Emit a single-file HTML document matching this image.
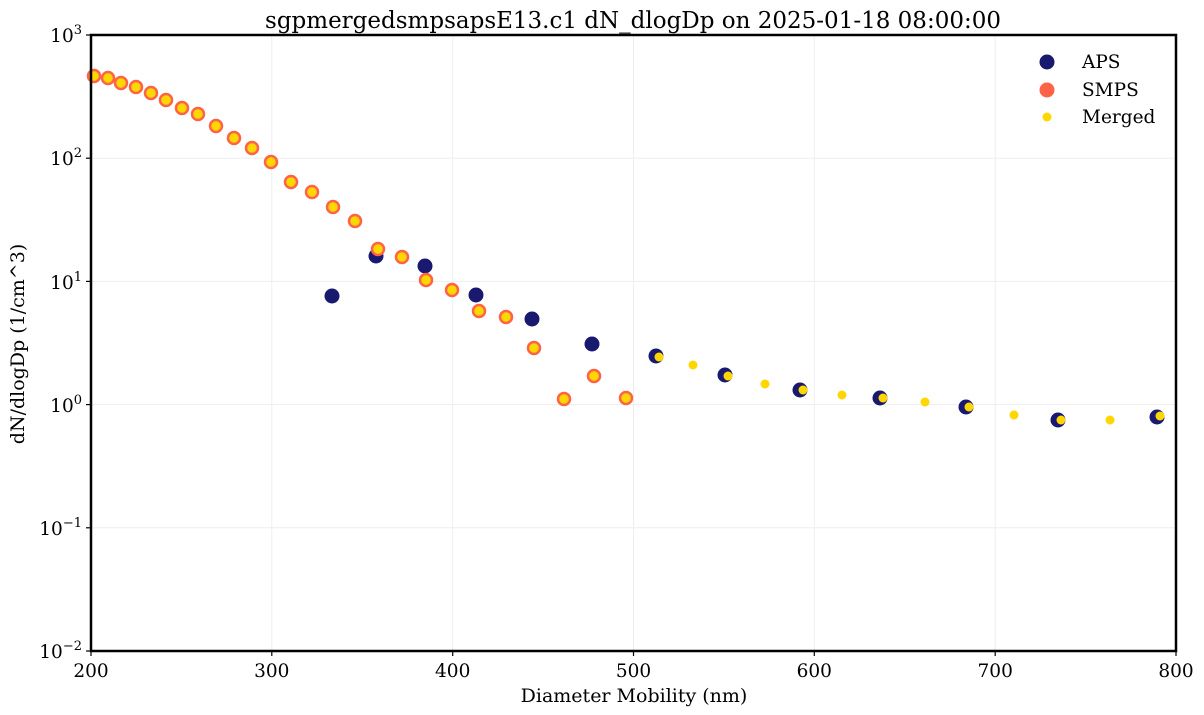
<!DOCTYPE html>
<html><head><meta charset="utf-8"><style>body{margin:0;background:#fff}svg{display:block}text{font-family:"DejaVu Serif","Liberation Serif",serif;fill:#000}</style></head><body>
<svg width="1204" height="715" viewBox="0 0 1204 715">
<rect width="1204" height="715" fill="#fff"/>
<g stroke="#eee" stroke-width="1">
<line x1="271.8" y1="35" x2="271.8" y2="651"/><line x1="452.7" y1="35" x2="452.7" y2="651"/><line x1="633.5" y1="35" x2="633.5" y2="651"/><line x1="814.3" y1="35" x2="814.3" y2="651"/><line x1="995.2" y1="35" x2="995.2" y2="651"/>
<line x1="91" y1="158.2" x2="1176" y2="158.2"/><line x1="91" y1="281.4" x2="1176" y2="281.4"/><line x1="91" y1="404.6" x2="1176" y2="404.6"/><line x1="91" y1="527.8" x2="1176" y2="527.8"/>
</g>
<g id="pts">
<g fill="#191970">
<circle cx="332" cy="296" r="7.5"/><circle cx="376" cy="256" r="7.5"/><circle cx="425" cy="266" r="7.5"/><circle cx="476" cy="295" r="7.5"/><circle cx="532" cy="319" r="7.5"/><circle cx="592" cy="344" r="7.5"/><circle cx="656" cy="356" r="7.5"/><circle cx="725" cy="375" r="7.5"/><circle cx="800" cy="390" r="7.5"/><circle cx="880" cy="398" r="7.5"/><circle cx="966" cy="407" r="7.5"/><circle cx="1058" cy="420" r="7.5"/><circle cx="1157" cy="417" r="7.5"/>
</g>
<g fill="#ffd700" stroke="#ff6347" stroke-width="2.5">
<circle cx="94" cy="76" r="6"/><circle cx="108" cy="78" r="6"/><circle cx="121" cy="83" r="6"/><circle cx="136" cy="87" r="6"/><circle cx="151" cy="93" r="6"/><circle cx="166" cy="100" r="6"/><circle cx="182" cy="108" r="6"/><circle cx="198" cy="114" r="6"/><circle cx="216" cy="126" r="6"/><circle cx="234" cy="138" r="6"/><circle cx="252" cy="148" r="6"/><circle cx="271" cy="162" r="6"/><circle cx="291" cy="182" r="6"/><circle cx="312" cy="192" r="6"/><circle cx="333" cy="207" r="6"/><circle cx="355" cy="221" r="6"/><circle cx="378" cy="249" r="6"/><circle cx="402" cy="257" r="6"/><circle cx="426" cy="280" r="6"/><circle cx="452" cy="290" r="6"/><circle cx="479" cy="311" r="6"/><circle cx="506" cy="317" r="6"/><circle cx="534" cy="348" r="6"/><circle cx="564" cy="399" r="6"/><circle cx="594" cy="376" r="6"/><circle cx="626" cy="398" r="6"/>
</g>
<g fill="#ffd700">
<circle cx="659" cy="357" r="4.5"/><circle cx="693" cy="365" r="4.5"/><circle cx="728" cy="376" r="4.5"/><circle cx="765" cy="384" r="4.5"/><circle cx="803" cy="390" r="4.5"/><circle cx="842" cy="395" r="4.5"/><circle cx="883" cy="398" r="4.5"/><circle cx="925" cy="402" r="4.5"/><circle cx="969" cy="407" r="4.5"/><circle cx="1014" cy="415" r="4.5"/><circle cx="1061" cy="420" r="4.5"/><circle cx="1110" cy="420" r="4.5"/><circle cx="1160" cy="416" r="4.5"/>
</g>
</g>
<rect x="91" y="35" width="1085" height="616" fill="none" stroke="#000" stroke-width="2.5"/>
<g stroke="#000" stroke-width="1.2">
<line x1="91" y1="651" x2="91" y2="656"/><line x1="271.8" y1="651" x2="271.8" y2="656"/><line x1="452.7" y1="651" x2="452.7" y2="656"/><line x1="633.5" y1="651" x2="633.5" y2="656"/><line x1="814.3" y1="651" x2="814.3" y2="656"/><line x1="995.2" y1="651" x2="995.2" y2="656"/><line x1="1176" y1="651" x2="1176" y2="656"/>
<line x1="86" y1="35" x2="91" y2="35"/><line x1="86" y1="158.2" x2="91" y2="158.2"/><line x1="86" y1="281.4" x2="91" y2="281.4"/><line x1="86" y1="404.6" x2="91" y2="404.6"/><line x1="86" y1="527.8" x2="91" y2="527.8"/><line x1="86" y1="651" x2="91" y2="651"/>
</g>
<g font-size="18.5" text-anchor="middle">
<text x="91" y="677">200</text><text x="271.8" y="677">300</text><text x="452.7" y="677">400</text><text x="633.5" y="677">500</text><text x="814.3" y="677">600</text><text x="995.2" y="677">700</text><text x="1176" y="677">800</text>
</g>
<g font-size="18.5" text-anchor="end">
<text x="82" y="42">10<tspan font-size="13" dy="-8">3</tspan></text>
<text x="82" y="165">10<tspan font-size="13" dy="-8">2</tspan></text>
<text x="82" y="289">10<tspan font-size="13" dy="-8">1</tspan></text>
<text x="82" y="412">10<tspan font-size="13" dy="-8">0</tspan></text>
<text x="82" y="535">10<tspan font-size="13" dy="-8">−1</tspan></text>
<text x="82" y="658">10<tspan font-size="13" dy="-8">−2</tspan></text>
</g>
<text x="634" y="702" font-size="19" text-anchor="middle">Diameter Mobility (nm)</text>
<text transform="translate(24,344) rotate(-90)" font-size="19" text-anchor="middle">dN/dlogDp (1/cm^3)</text>
<text x="633" y="28" font-size="23" text-anchor="middle">sgpmergedsmpsapsE13.c1 dN_dlogDp on 2025-01-18 08:00:00</text>
<circle cx="1047" cy="62" r="7.5" fill="#191970"/>
<circle cx="1047" cy="90" r="7.5" fill="#ff6347"/>
<circle cx="1047" cy="117" r="4.5" fill="#ffd700"/>
<g font-size="18.5"><text x="1082" y="68">APS</text><text x="1082" y="96">SMPS</text><text x="1082" y="123">Merged</text></g>
</svg>
</body></html>
